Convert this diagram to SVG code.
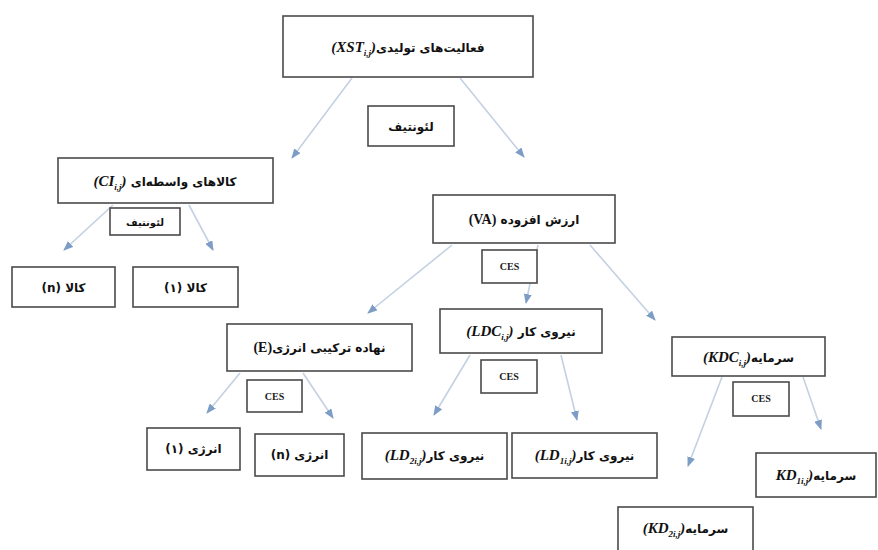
<svg xmlns="http://www.w3.org/2000/svg" width="878" height="550" viewBox="0 0 878 550">
<style>
.box{fill:#fff;stroke:#4a4a4a;stroke-width:1.6}
.t{font-family:"DejaVu Sans",sans-serif;font-size:12px;font-weight:bold;fill:#111;text-anchor:middle;direction:ltr}
.m{font-family:"Liberation Serif",serif;font-style:italic;font-weight:bold;font-size:15px}
.s{font-family:"Liberation Serif",serif;font-style:italic;font-size:9px}
.r{font-family:"Liberation Serif",serif;font-weight:bold;font-size:14px}
.ces{font-family:"Liberation Serif",serif;font-weight:bold;font-size:10px;fill:#222;text-anchor:middle}
.c{stroke:#c3d1e2;stroke-width:1.6;fill:none;marker-end:url(#ah)}
</style>
<defs>
<marker id="ah" markerUnits="userSpaceOnUse" markerWidth="10" markerHeight="8" refX="9" refY="4" orient="auto">
<path d="M0,0 L10,4 L0,8 z" fill="#7d9cc6"/>
</marker>
</defs>
<rect width="878" height="550" fill="#fff"/>
<g id="connectors">
<line class="c" x1="352" y1="78" x2="292" y2="158"/>
<line class="c" x1="460" y1="78" x2="524" y2="157"/>
<line class="c" x1="113" y1="205" x2="64" y2="250"/>
<line class="c" x1="189" y1="205" x2="213" y2="250"/>
<line class="c" x1="452" y1="245" x2="368" y2="313"/>
<line class="c" x1="538" y1="245" x2="526" y2="303"/>
<line class="c" x1="590" y1="245" x2="655" y2="320"/>
<line class="c" x1="240" y1="373" x2="207" y2="413"/>
<line class="c" x1="303" y1="373" x2="333" y2="418"/>
<line class="c" x1="470" y1="355" x2="434" y2="415"/>
<line class="c" x1="561" y1="355" x2="577" y2="420"/>
<line class="c" x1="722" y1="377" x2="688" y2="466"/>
<line class="c" x1="803" y1="377" x2="821" y2="429"/>
</g>
<g id="xst">
<rect class="box" x="283" y="16" width="250" height="61"/>
<text class="t" x="408" y="52"><tspan class="m">(XST</tspan><tspan class="s" dy="4">i,j</tspan><tspan class="m" dy="-4">)</tspan>فعالیت‌های تولیدی</text>
</g>
<g id="leontief1">
<rect class="box" x="368" y="106" width="86" height="40"/>
<text class="t" x="411" y="131">لئونتیف</text>
</g>
<g id="ci">
<rect class="box" x="58" y="158" width="215" height="45"/>
<text class="t" x="165" y="186"><tspan class="m">(CI</tspan><tspan class="s" dy="4">i,j</tspan><tspan class="m" dy="-4">)</tspan> کالاهای واسطه‌ای</text>
</g>
<g id="leontief2">
<rect class="box" x="110" y="208" width="70" height="27"/>
<text class="t" x="145" y="226" style="font-size:10px">لئونتیف</text>
</g>
<g id="va">
<rect class="box" x="433" y="195" width="182" height="48"/>
<text class="t" x="524" y="224"><tspan class="r">(VA)</tspan> ارزش افزوده</text>
</g>
<g id="ces1">
<rect class="box" x="482" y="250" width="55" height="33"/>
<text class="ces" x="509.5" y="270">CES</text>
</g>
<g id="kala-n">
<rect class="box" x="12" y="267" width="103" height="40"/>
<text class="t" x="63.5" y="292">(n) کالا</text>
</g>
<g id="kala-1">
<rect class="box" x="133" y="267" width="105" height="40"/>
<text class="t" x="185.5" y="292">(۱) کالا</text>
</g>
<g id="energy">
<rect class="box" x="227" y="324" width="185" height="47"/>
<text class="t" x="319.5" y="352"><tspan class="r">(E)</tspan>نهاده ترکیبی انرژی</text>
</g>
<g id="ces2">
<rect class="box" x="247" y="380" width="55" height="32"/>
<text class="ces" x="274.5" y="400">CES</text>
</g>
<g id="ldc">
<rect class="box" x="440" y="309" width="162" height="44"/>
<text class="t" x="521" y="336"><tspan class="m">(LDC</tspan><tspan class="s" dy="4">i,j</tspan><tspan class="m" dy="-4">)</tspan> نیروی کار</text>
</g>
<g id="ces3">
<rect class="box" x="481" y="360" width="56" height="33"/>
<text class="ces" x="509" y="380">CES</text>
</g>
<g id="kdc">
<rect class="box" x="672" y="337" width="153" height="39"/>
<text class="t" x="748.5" y="362"><tspan class="m">(KDC</tspan><tspan class="s" dy="4">i,j</tspan><tspan class="m" dy="-4">)</tspan>سرمایه</text>
</g>
<g id="ces4">
<rect class="box" x="733" y="382" width="56" height="34"/>
<text class="ces" x="761" y="402">CES</text>
</g>
<g id="energy-1">
<rect class="box" x="147" y="428" width="93" height="42"/>
<text class="t" x="193.5" y="453">(۱) انرژی</text>
</g>
<g id="energy-n">
<rect class="box" x="255" y="434" width="89" height="42"/>
<text class="t" x="299.5" y="459">(n) انرژی</text>
</g>
<g id="ld2">
<rect class="box" x="362" y="433" width="145" height="46"/>
<text class="t" x="434.5" y="460"><tspan class="m">(LD</tspan><tspan class="s" dy="4">2i,j</tspan><tspan class="m" dy="-4">)</tspan>نیروی کار</text>
</g>
<g id="ld1">
<rect class="box" x="512" y="433" width="145" height="45"/>
<text class="t" x="584.5" y="460"><tspan class="m">(LD</tspan><tspan class="s" dy="4">1i,j</tspan><tspan class="m" dy="-4">)</tspan>نیروی کار</text>
</g>
<g id="kd1">
<rect class="box" x="756" y="453" width="120" height="44"/>
<text class="t" x="816" y="480"><tspan class="m">KD</tspan><tspan class="s" dy="4">1i,j</tspan><tspan class="m" dy="-4">)</tspan>سرمایه</text>
</g>
<g id="kd2">
<rect class="box" x="618" y="507" width="135" height="46"/>
<text class="t" x="685.5" y="533"><tspan class="m">(KD</tspan><tspan class="s" dy="4">2i,j</tspan><tspan class="m" dy="-4">)</tspan>سرمایه</text>
</g>
</svg>
